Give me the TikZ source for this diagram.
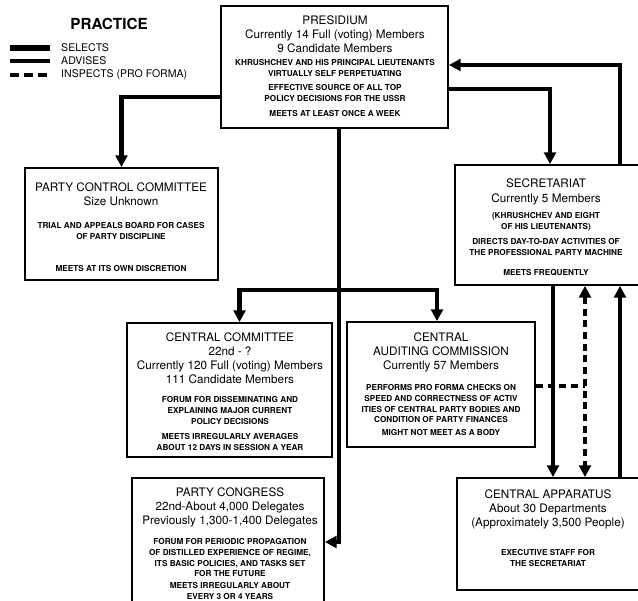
\documentclass[tikz,border=0pt]{standalone}
\usepackage{fontspec}
\setmainfont{TeX Gyre Heros}
\usepackage{tikz}
\usetikzlibrary{
  arrows.meta,
  positioning
}
\newlength\unitpx
\setlength\unitpx{0.03cm}

\begin{document}
\begin{tikzpicture}[%スタイル
          x=0.03cm,y=-0.03cm,
          box/.style={draw, line width=1.5pt, inner sep=0pt},
          big/.style={font=\fontsize{10}{12}\selectfont, align=center, inner sep=0pt, anchor=north},
          small/.style={font=\fontsize{7}{9.3}\selectfont\bfseries, align=center, inner sep=0pt, anchor=north},
          legtxt/.style={font=\fontsize{9}{10}\selectfont, inner sep=0pt, anchor=west},
          sel/.style={line width=3.6pt, -{Triangle[length=10pt,width=10pt]}},
          adv/.style={line width=3pt, -{Triangle[length=10pt,width=10pt]}},
          ins/.style={line width=3.2pt, dash pattern=on 6pt off 4pt}
        ]

        % 描画範囲
        \useasboundingbox (0,0) rectangle (638,601);
        \clip (0,0) rectangle (638,601);

        % 凡例
        \node[font=\fontsize{13}{15}\selectfont\bfseries] (practice) at (109,24) {PRACTICE};
        \draw[line width=4.4pt] (10,48) -- (50,48) coordinate (legA);
        \node[legtxt, right=11\unitpx of legA] (legsel) {SELECTS};
        \draw[line width=3.6pt] (10,61) -- (50,61) coordinate (legB);
        \node[legtxt, right=11\unitpx of legB] (legadv) {ADVISES};
        \draw[line width=3.6pt, dash pattern=on 8pt off 4pt] (10,75) -- (50,75) coordinate (legC);
        \node[legtxt, right=11\unitpx of legC] (legins) {INSPECTS (PRO FORMA)};

        % 箱
        \node[box, minimum width=227\unitpx, minimum height=122\unitpx] (pres) at (334.5,67) {};
        \node[box, minimum width=193\unitpx, minimum height=112\unitpx] (pcc) at (121.5,224) {};
        \node[box, minimum width=190\unitpx, minimum height=120\unitpx] (secr) at (550,225) {};
        \node[box, minimum width=205\unitpx, minimum height=134\unitpx] (cc) at (229.5,390) {};
        \node[box, minimum width=188\unitpx, minimum height=125\unitpx] (cac) at (441,384.5) {};
        \node[box, minimum width=192\unitpx, minimum height=128\unitpx] (pc) at (228,542) {};
        \node[box, minimum width=203\unitpx, minimum height=112\unitpx] (ca) at (558.5,534) {};

        % 文字
        \node[big] (presA) at (335,15.5) {PRESIDIUM\\Currently 14 Full (voting) Members\\9 Candidate Members};
        \node[small] (presB) at (335,59) {KHRUSHCHEV AND HIS PRINCIPAL LIEUTENANTS\\VIRTUALLY SELF PERPETUATING};
        \node[small] (presC) at (335,84) {EFFECTIVE SOURCE OF ALL TOP\\POLICY DECISIONS FOR THE USSR};
        \node[small] (presD) at (335,110) {MEETS AT LEAST ONCE A WEEK};

        \node[big] (pccA) at (121,182.5) {PARTY CONTROL COMMITTEE\\Size Unknown};
        \node[small] (pccB) at (121,222) {TRIAL AND APPEALS BOARD FOR CASES\\OF PARTY DISCIPLINE};
        \node[small] (pccC) at (121,265) {MEETS AT ITS OWN DISCRETION};

        \node[big] (secrA) at (546,179) {SECRETARIAT\\Currently 5 Members};
        \node[small] (secrB) at (546,212) {(KHRUSHCHEV AND EIGHT\\OF HIS LIEUTENANTS)};
        \node[small] (secrC) at (546,238) {DIRECTS DAY-TO-DAY ACTIVITIES OF\\THE PROFESSIONAL PARTY MACHINE};
        \node[small] (secrD) at (546,269) {MEETS FREQUENTLY};

        \node[big] (ccA) at (230,332.5) {CENTRAL COMMITTEE\\22nd - ?\\Currently 120 Full (voting) Members\\111 Candidate Members};
        \node[small] (ccB) at (230,396) {FORUM FOR DISSEMINATING AND\\EXPLAINING MAJOR CURRENT\\POLICY DECISIONS};
        \node[small] (ccC) at (230,433) {MEETS IRREGULARLY AVERAGES\\ABOUT 12 DAYS IN SESSION A YEAR};

        \node[big] (cacA) at (441,332.5) {CENTRAL\\AUDITING COMMISSION\\Currently 57 Members};
        \node[small] (cacB) at (441,384) {PERFORMS PRO FORMA CHECKS ON\\SPEED AND CORRECTNESS OF ACTIV\\ITIES OF CENTRAL PARTY BODIES AND\\CONDITION OF PARTY FINANCES};
        \node[small] (cacC) at (441,429) {MIGHT NOT MEET AS A BODY};

        \node[big] (pcA) at (230,487.5) {PARTY CONGRESS\\22nd-About 4,000 Delegates\\Previously 1,300-1,400 Delegates};
        \node[small] (pcB) at (230,538) {FORUM FOR PERIODIC PROPAGATION\\OF DISTILLED EXPERIENCE OF REGIME,\\ITS BASIC POLICIES, AND TASKS SET\\FOR THE FUTURE};
        \node[small] (pcC) at (230,582) {MEETS IRREGULARLY ABOUT\\EVERY 3 OR 4 YEARS};

        \node[big] (caA) at (548,489.5) {CENTRAL APPARATUS\\About 30 Departments\\(Approximately 3,500 People)};
        \node[small] (caB) at (548,549) {EXECUTIVE STAFF FOR\\THE SECRETARIAT};

        % 座標の定義
        \coordinate (lvlpcc) at (0,97);
        \coordinate (lvlsec) at (0,89);
        \coordinate (lvladv) at (0,65);
        \coordinate (hub) at (339,290);
        \coordinate (colsel) at (553,0);
        \coordinate (colins) at (585,0);
        \coordinate (coladv) at (620,0);
        \coordinate (lvlins) at (0,386);

        % 選出
        \draw[sel] (pres.west |- lvlpcc) -| (pcc.north);
        \draw[sel] (pres.east |- lvlsec) -| (secr.north);
        \draw[sel] (pres.south -| hub) |- (pc.east);
        \draw[sel] (hub) -| ([xshift=10\unitpx]cc.north);
        \draw[sel] (hub) -| ([xshift=-4\unitpx]cac.north);
        \draw[sel] (secr.south -| colsel) -- (ca.north -| colsel);

        % 助言
        \draw[adv] (secr.north -| coladv) |- (pres.east |- lvladv);
        \draw[adv] (ca.north -| coladv) -- (secr.south -| coladv);

        % 監査
        \draw[ins, {Triangle[length=10pt,width=10pt]}-{Triangle[length=10pt,width=10pt]}] (secr.south -| colins) -- (ca.north -| colins);
        \draw[ins] (cac.east |- lvlins) -- (lvlins -| colins);

      \end{tikzpicture}
\end{document}
